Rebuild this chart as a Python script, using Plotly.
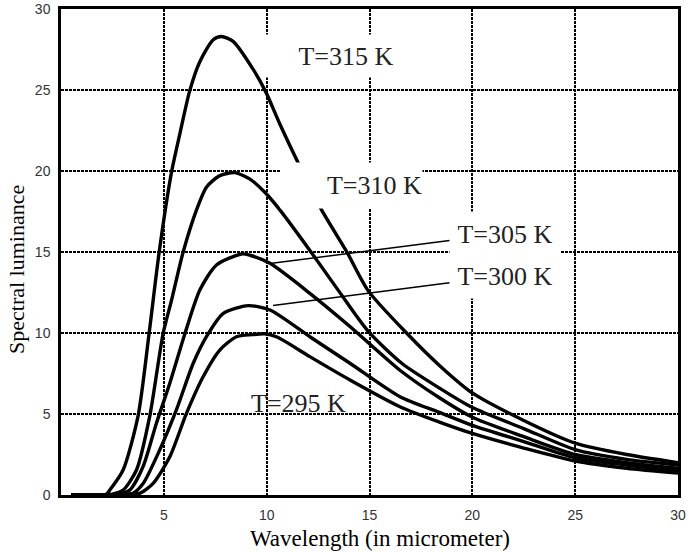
import plotly.graph_objects as go

# ---- data ----
x_315 = [0.5, 1.5, 2.2, 2.37, 3.02, 3.75, 4.28, 4.77, 5.37, 5.78, 6.26, 6.75, 7.4, 7.8, 8.37, 9.33, 9.95, 10.64, 11.57, 12.67, 13.9, 14.94, 16.8, 18.4, 20.0, 22.5, 25.0, 27.5, 30.0]
y_315 = [0, 0, 0.05, 0.3, 1.54, 4.9, 9.94, 14.96, 19.9, 22.3, 24.96, 26.75, 28.1, 28.3, 28.0, 26.3, 24.9, 22.9, 20.4, 17.6, 15.0, 12.6, 10.0, 8.0, 6.3, 4.6, 3.2, 2.5, 2.0]

x_310 = [0.5, 2.0, 2.5, 3.02, 3.67, 4.32, 4.96, 5.37, 5.94, 6.59, 7.07, 7.7, 8.45, 9.19, 9.9, 10.64, 12.1, 13.5, 14.94, 16.6, 18.4, 20.0, 22.5, 25.0, 27.5, 30.0]
y_310 = [0, 0, 0.05, 0.3, 1.54, 4.9, 9.94, 12.0, 15.0, 17.6, 19.0, 19.7, 19.9, 19.5, 18.7, 17.6, 15.1, 12.6, 10.1, 8.1, 6.6, 5.4, 4.1, 2.8, 2.2, 1.85]

x_305 = [0.5, 2.2, 2.8, 3.34, 3.99, 4.64, 5.29, 6.02, 6.75, 7.56, 8.78, 9.18, 10.16, 12.1, 14.05, 16.48, 18.4, 20.0, 22.5, 25.0, 27.5, 30.0]
y_305 = [0, 0, 0.05, 0.3, 1.75, 4.43, 6.9, 9.94, 12.65, 14.2, 14.88, 14.8, 14.3, 12.45, 10.4, 7.7, 6.0, 4.8, 3.6, 2.5, 2.0, 1.65]

x_300 = [0.5, 2.4, 3.0, 3.5, 4.0, 4.8, 5.61, 6.43, 7.15, 7.88, 9.1, 10.16, 12.1, 14.05, 16.48, 18.4, 20.0, 22.5, 25.0, 27.5, 30.0]
y_300 = [0, 0, 0.05, 0.1, 0.72, 2.78, 5.25, 8.13, 9.94, 11.2, 11.69, 11.42, 9.77, 8.13, 6.07, 5.1, 4.3, 3.3, 2.3, 1.85, 1.5]

x_295 = [0.5, 2.6, 3.2, 3.83, 4.48, 5.29, 6.1, 6.91, 7.72, 8.53, 9.3, 9.9, 10.5, 12.1, 14.05, 16.48, 18.4, 20.0, 22.5, 25.0, 27.5, 30.0]
y_295 = [0, 0, 0.03, 0.1, 0.72, 2.36, 5.04, 7.3, 8.95, 9.77, 9.9, 9.95, 9.75, 8.54, 7.1, 5.45, 4.5, 3.8, 2.9, 2.1, 1.65, 1.35]

x_ticks = [5, 10, 15, 20, 25, 30]
y_ticks = [0, 5, 10, 15, 20, 25, 30]

labels = ["T=315 K", "T=310 K", "T=305 K", "T=300 K", "T=295 K"]
x_title = "Wavelength (in micrometer)"
y_title = "Spectral luminance"

series = [(x_315, y_315), (x_310, y_310), (x_305, y_305), (x_300, y_300), (x_295, y_295)]

fig = go.Figure()
for (xs, ys), name in zip(series, labels):
    fig.add_trace(go.Scatter(x=xs, y=ys, mode="lines", name=name,
                             line=dict(color="black", width=3.4, shape="spline", smoothing=0.7),
                             showlegend=False, hoverinfo="skip"))

W, H = 689, 552
L, R, T, B = 61, 11, 9, 57
pw, ph = W - L - R, H - T - B

def dx(px):
    return (px - L) / pw * 30.0

def dy(py):
    return (H - B - py) / ph * 30.0

serif = "Liberation Serif, Times New Roman, serif"
lab_font = dict(family=serif, size=26, color="#222")

ann = []
# T=315 K
ann.append(dict(x=dx(346), y=dy(56), xref="x", yref="y", text=labels[0], showarrow=False,
                font=lab_font, bgcolor="white", width=170, height=42, borderpad=0))
# T=310 K
ann.append(dict(x=dx(351.5), y=dy(185.5), xref="x", yref="y", text=labels[1], showarrow=False,
                font=lab_font, bgcolor="white", width=141, height=45, align="right", borderpad=0))
# T=305 K
ann.append(dict(x=dx(270), y=dy(263.5), xref="x", yref="y", text=labels[2], showarrow=True,
                arrowhead=0, arrowwidth=1.5, arrowcolor="black", ax=235, ay=-30,
                font=lab_font, bgcolor="white", width=110, height=44, borderpad=0))
# T=300 K
ann.append(dict(x=dx(273), y=dy(305.5), xref="x", yref="y", text=labels[3], showarrow=True,
                arrowhead=0, arrowwidth=1.5, arrowcolor="black", ax=232, ay=-30,
                font=lab_font, bgcolor="white", width=110, height=44, borderpad=0))
# T=295 K
ann.append(dict(x=dx(298), y=dy(403), xref="x", yref="y", text=labels[4], showarrow=False,
                font=lab_font))
# axis titles
ann.append(dict(x=(380 - L) / pw, y=(H - B - 538) / ph, xref="paper", yref="paper",
                xanchor="center", yanchor="middle",
                text=x_title, showarrow=False, font=dict(family=serif, size=23, color="#000")))
ann.append(dict(x=(16 - L) / pw, y=(H - B - 270) / ph, xref="paper", yref="paper",
                xanchor="center", yanchor="middle",
                text=y_title, showarrow=False, textangle=-90,
                font=dict(family=serif, size=22, color="#000")))

axis_common = dict(showgrid=True, gridcolor="black", gridwidth=1.6, griddash="2.5px,1.5px",
                   showline=True, linecolor="black", linewidth=2.5, mirror=True,
                   zeroline=False, ticks="", automargin=False,
                   tickfont=dict(family="Liberation Sans, Arial, sans-serif", size=14, color="#333"))

fig.update_xaxes(range=[0, 30], tickvals=x_ticks, ticktext=[str(v) for v in x_ticks],
                 ticklabelstandoff=5, **axis_common)
fig.update_yaxes(range=[0, 30], tickvals=y_ticks, ticktext=[str(v) for v in y_ticks],
                 ticklabelstandoff=5, **axis_common)

fig.update_layout(width=W, height=H, margin=dict(l=L, r=R, t=T, b=B, autoexpand=False),
                  plot_bgcolor="white", paper_bgcolor="white", annotations=ann)

fig.write_html("out.html", config={"displayModeBar": False},
               post_script="document.body.style.margin='0';")
